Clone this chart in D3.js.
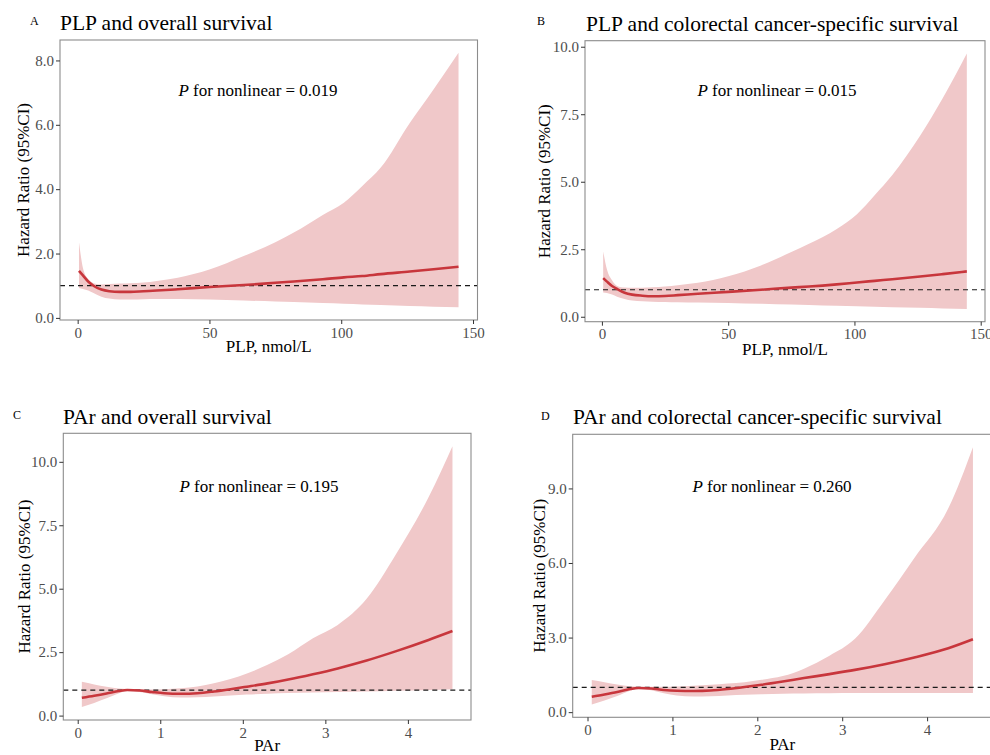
<!DOCTYPE html>
<html lang="en">
<head>
<meta charset="UTF-8">
<title>PLP / PAr and survival</title>
<script src="https://d3js.org/d3.v7.min.js"></script>
<style>
  body { margin: 0; background: #fff; }
  svg { display: block; }
  text { font-family: "Liberation Serif", "Times New Roman", serif; }
  .tick text { fill: #4d4d4d; font-size: 15px; }
  .tick line { stroke: #333; }
  .box { fill: none; stroke: #8c8c8c; stroke-width: 1.1; }
  .band { fill: #f0c8c9; }
  .est { fill: none; stroke: #c8363c; stroke-width: 2.6; }
  .ref { stroke: #1a1a1a; stroke-width: 1.2; stroke-dasharray: 5 4; }
  .title { font-size: 21.5px; fill: #000; }
  .letter { font-size: 12px; fill: #000; }
  .axtitle { font-size: 17px; fill: #000; }
  .ptext { font-size: 17px; fill: #000; }
</style>
</head>
<body>
<svg width="990" height="755"></svg>
<script>
// PLP (nmol/L) grid, shared by panels A and B
const plpX = [0.5, 2, 4, 6, 9, 12, 16, 20, 25, 30, 38, 50, 63, 75, 82, 93, 101, 108, 115, 126, 135, 144.5];

// A: PLP and overall survival
const plpOsHR = [1.46, 1.32, 1.13, 1.0, 0.88, 0.83, 0.81, 0.81, 0.83, 0.85, 0.89, 0.96, 1.02, 1.09, 1.13, 1.2, 1.26, 1.3, 1.36, 1.44, 1.51, 1.59];
const plpOsLo = [0.93, 0.9, 0.85, 0.77, 0.66, 0.6, 0.57, 0.57, 0.58, 0.59, 0.59, 0.57, 0.54, 0.51, 0.49, 0.46, 0.44, 0.42, 0.4, 0.37, 0.35, 0.33];
const plpOsHi = [2.35, 1.55, 1.2, 1.08, 1.04, 1.05, 1.07, 1.08, 1.1, 1.15, 1.25, 1.5, 1.92, 2.35, 2.65, 3.2, 3.58, 4.1, 4.67, 6.06, 7.1, 8.24];

// B: PLP and colorectal cancer-specific survival
const plpCssHR = [1.43, 1.3, 1.14, 1.03, 0.89, 0.82, 0.78, 0.76, 0.77, 0.8, 0.85, 0.92, 1.0, 1.08, 1.12, 1.2, 1.27, 1.33, 1.39, 1.49, 1.58, 1.68];
const plpCssLo = [0.9, 0.88, 0.82, 0.74, 0.66, 0.6, 0.57, 0.56, 0.55, 0.54, 0.53, 0.51, 0.48, 0.45, 0.44, 0.41, 0.39, 0.37, 0.35, 0.33, 0.31, 0.29];
const plpCssHi = [2.42, 1.75, 1.35, 1.14, 1.08, 1.07, 1.07, 1.09, 1.12, 1.17, 1.26, 1.5, 1.9, 2.4, 2.7, 3.25, 3.8, 4.5, 5.25, 6.7, 8.1, 9.75];

// PAr grid, shared by panels C and D
const parX = [0.05, 0.2, 0.35, 0.5, 0.6, 0.75, 0.9, 1.05, 1.25, 1.45, 1.65, 1.85, 2.05, 2.3, 2.55, 2.85, 3.15, 3.5, 3.85, 4.25, 4.54];

// C: PAr and overall survival
const parOsHR = [0.7, 0.78, 0.87, 0.97, 1.01, 0.99, 0.93, 0.88, 0.86, 0.88, 0.95, 1.04, 1.14, 1.27, 1.42, 1.63, 1.86, 2.17, 2.53, 2.98, 3.33];
const parOsLo = [0.34, 0.5, 0.68, 0.88, 0.97, 0.93, 0.84, 0.76, 0.71, 0.72, 0.75, 0.79, 0.83, 0.86, 0.89, 0.91, 0.93, 0.95, 0.98, 1.01, 1.04];
const parOsHi = [1.33, 1.23, 1.14, 1.07, 1.05, 1.04, 1.03, 1.04, 1.08, 1.15, 1.27, 1.44, 1.66, 2.0, 2.42, 3.05, 3.57, 4.6, 6.33, 8.6, 10.61];

// D: PAr and colorectal cancer-specific survival
const parCssHR = [0.62, 0.71, 0.81, 0.93, 0.97, 0.95, 0.89, 0.86, 0.85, 0.87, 0.93, 1.01, 1.1, 1.23, 1.37, 1.53, 1.7, 1.93, 2.2, 2.57, 2.93];
const parCssLo = [0.31, 0.47, 0.65, 0.86, 0.94, 0.88, 0.76, 0.67, 0.63, 0.64, 0.67, 0.7, 0.72, 0.74, 0.75, 0.76, 0.77, 0.77, 0.77, 0.77, 0.77];
const parCssHi = [1.29, 1.2, 1.11, 1.04, 1.02, 1.02, 1.02, 1.03, 1.06, 1.1, 1.15, 1.2, 1.3, 1.45, 1.75, 2.27, 2.95, 4.5, 6.2, 8.2, 10.66];

const plpTicks = [0, 50, 100, 150];
const parTicks = [0, 1, 2, 3, 4];
const titles = ["PLP and overall survival", "PLP and colorectal cancer-specific survival",
                "PAr and overall survival", "PAr and colorectal cancer-specific survival"];
const letters = ["A", "B", "C", "D"];
const pValues = ["0.019", "0.015", "0.195", "0.260"];

// panel layout (pixels)
const panels = [
  { x: plpX, hr: plpOsHR, lo: plpOsLo, hi: plpOsHi, xt: plpTicks, yt: [0, 2, 4, 6, 8], xlab: "PLP, nmol/L",
    box: [60, 40, 477.5, 320], letterPos: [30, 25], titlePos: [60, 30], pPos: [258, 96], ylabX: 29, xlabY: 352, ytSize: 15 },
  { x: plpX, hr: plpCssHR, lo: plpCssLo, hi: plpCssHi, xt: plpTicks, yt: [0, 2.5, 5, 7.5, 10], xlab: "PLP, nmol/L",
    box: [585, 40.7, 985, 321.7], letterPos: [537, 25], titlePos: [586, 30.5], pPos: [777, 96], ylabX: 550, xlabY: 355, ytSize: 15 },
  { x: parX, hr: parOsHR, lo: parOsLo, hi: parOsHi, xt: parTicks, yt: [0, 2.5, 5, 7.5, 10], xlab: "PAr",
    box: [63.3, 433.3, 471, 720], letterPos: [13, 419], titlePos: [63, 424], pPos: [259, 492], ylabX: 30, xlabY: 751, ytSize: 15 },
  { x: parX, hr: parCssHR, lo: parCssLo, hi: parCssHi, xt: parTicks, yt: [0, 3, 6, 9], xlab: "PAr",
    box: [572.7, 434.3, 992, 717.3], letterPos: [541, 420], titlePos: [573, 424], pPos: [772, 492], ylabX: 545, xlabY: 750, ytSize: 13.5 }
];

const svg = d3.select("svg");
const fmtY = d3.format(".1f");
const fmtX = d3.format("d");
const serif = "Liberation Serif, Times New Roman, serif";

function expand(ext) {
  const pad = (ext[1] - ext[0]) * 0.05;
  return [ext[0] - pad, ext[1] + pad];
}

panels.forEach((p, i) => {
  const [x0, y0, x1, y1] = p.box;
  const g = svg.append("g");

  const xs = d3.scaleLinear().domain(expand(d3.extent(p.x))).range([x0, x1]);
  const ys = d3.scaleLinear().domain(expand([d3.min(p.lo), d3.max(p.hi)])).range([y1, y0]);

  const rows = p.x.map((v, k) => ({ x: v, hr: p.hr[k], lo: p.lo[k], hi: p.hi[k] }));

  g.append("path").attr("class", "band")
    .attr("d", d3.area().curve(d3.curveMonotoneX)
      .x(d => xs(d.x)).y0(d => ys(d.lo)).y1(d => ys(d.hi))(rows));

  g.append("line").attr("class", "ref")
    .attr("x1", x0).attr("x2", x1).attr("y1", ys(1)).attr("y2", ys(1));

  g.append("path").attr("class", "est")
    .attr("d", d3.line().curve(d3.curveMonotoneX).x(d => xs(d.x)).y(d => ys(d.hr))(rows));

  g.append("rect").attr("class", "box")
    .attr("x", x0).attr("y", y0).attr("width", x1 - x0).attr("height", y1 - y0);

  const xAxis = g.append("g").attr("transform", `translate(0,${y1})`)
    .call(d3.axisBottom(xs).tickValues(p.xt).tickFormat(fmtX).tickSize(4).tickPadding(3));
  xAxis.select(".domain").remove();
  xAxis.selectAll(".tick text").attr("font-family", serif).attr("font-size", 15);

  const yAxis = g.append("g").attr("transform", `translate(${x0},0)`)
    .call(d3.axisLeft(ys).tickValues(p.yt).tickFormat(fmtY).tickSize(4).tickPadding(2));
  yAxis.select(".domain").remove();
  yAxis.selectAll(".tick text").attr("font-family", serif).attr("font-size", p.ytSize);

  g.append("text").attr("class", "axtitle")
    .attr("x", (x0 + x1) / 2).attr("y", p.xlabY).attr("text-anchor", "middle")
    .text(p.xlab);

  g.append("text").attr("class", "axtitle")
    .attr("transform", `translate(${p.ylabX},${(y0 + y1) / 2}) rotate(-90)`)
    .attr("text-anchor", "middle")
    .text("Hazard Ratio (95%CI)");

  svg.append("text").attr("class", "letter")
    .attr("x", p.letterPos[0]).attr("y", p.letterPos[1]).text(letters[i]);
  svg.append("text").attr("class", "title")
    .attr("x", p.titlePos[0]).attr("y", p.titlePos[1]).text(titles[i]);

  const pt = svg.append("text").attr("class", "ptext")
    .attr("x", p.pPos[0]).attr("y", p.pPos[1]).attr("text-anchor", "middle");
  pt.append("tspan").attr("font-style", "italic").text("P");
  pt.append("tspan").text(" for nonlinear = " + pValues[i]);
});
</script>
</body>
</html>
